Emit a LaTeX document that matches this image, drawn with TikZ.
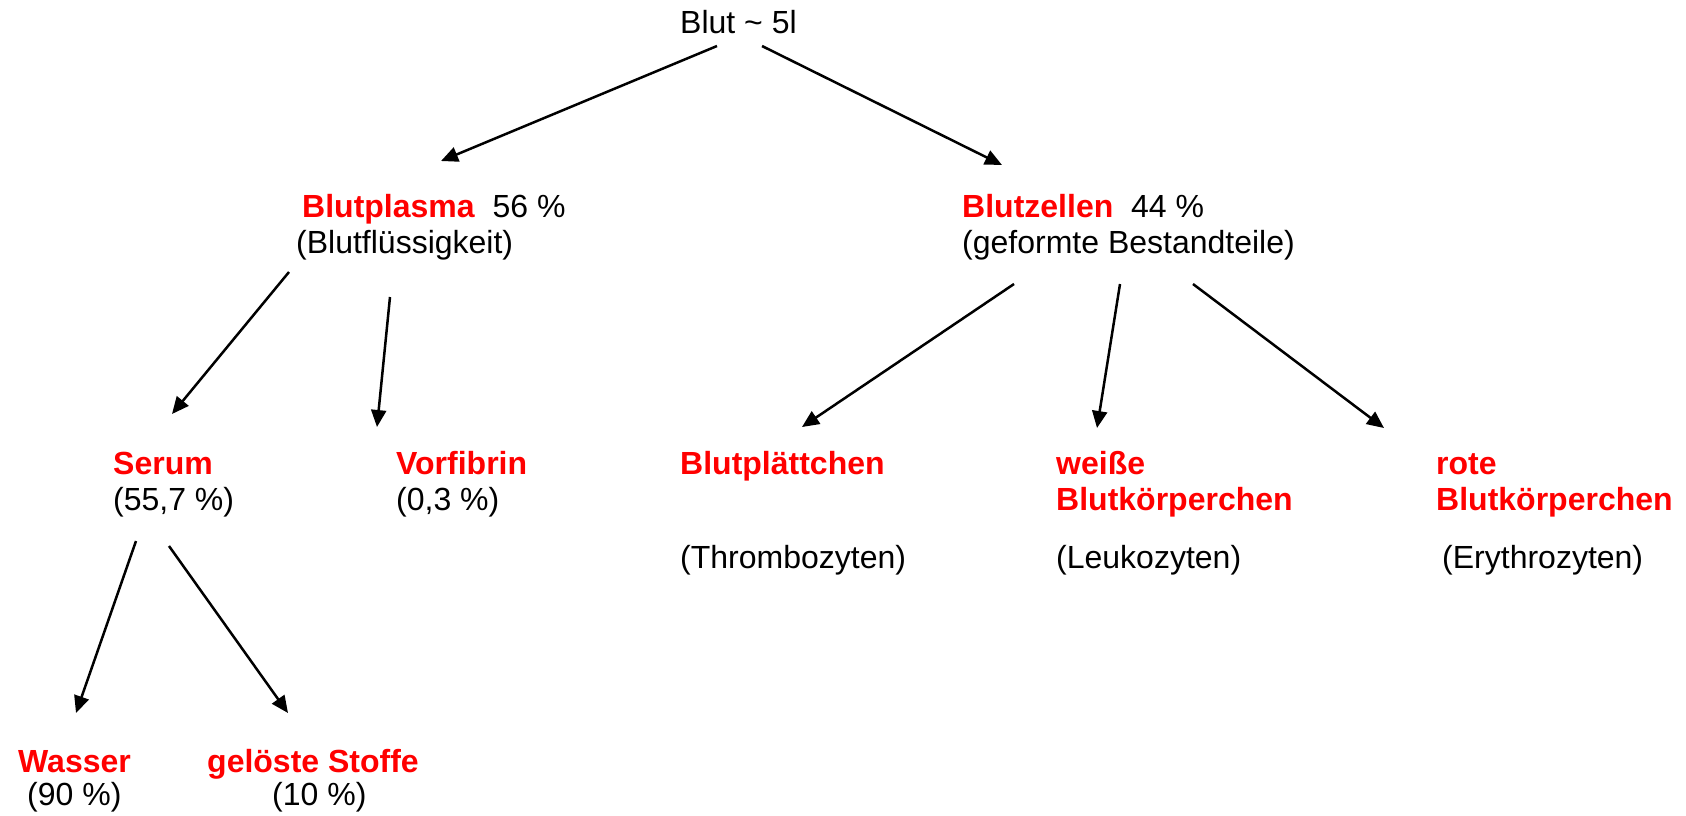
\documentclass[tikz,border=0pt]{standalone}
\usepackage{fontspec}
\setmainfont{Liberation Sans}
\usetikzlibrary{arrows.meta,calc}
\newcommand{\rotfett}[1]{\textcolor{red}{\textbf{#1}}}

\begin{document}
\begin{tikzpicture}[x=1pt,y=-1pt,
	every node/.style={inner sep=0pt,anchor=base west,align=left,font=\fontsize{32}{36}\selectfont},
	pfeil/.style={-{Triangle[length=17pt,width=15pt]},line width=2.5pt}]
\useasboundingbox (0,0) rectangle (1686,815);
% Knoten (base = letzte Zeile)
\node (blut) at (680,33) {Blut \textasciitilde{} 5l};
\node (plasma) at (296,253) {\hspace*{6pt}\rotfett{Blutplasma}\ \ 56 \%\\(Blutflüssigkeit)};
\node (zellen) at (962,253) {\rotfett{Blutzellen}\ \ 44 \%\\(geformte Bestandteile)};
\node (serum) at (113,510) {\rotfett{Serum}\\(55,7 \%)};
\node (vorfibrin) at (396,510) {\rotfett{Vorfibrin}\\(0,3 \%)};
\node (plaett) at (680,568) {\rotfett{Blutplättchen}\\[58pt](Thrombozyten)};
\node (weisse) at (1056,568) {\rotfett{weiße}\\\rotfett{Blutkörperchen}\\[22pt](Leukozyten)};
\node (rote) at (1436,568) {\rotfett{rote}\\\rotfett{Blutkörperchen}\\[22pt]\hspace*{6pt}(Erythrozyten)};
\node (wasser) at (18,805) {\rotfett{Wasser}\\[-3pt]\hspace*{9pt}(90 \%)};
\node (geloest) at (207,805) {\rotfett{gelöste Stoffe}\\[-3pt]\hspace*{65pt}(10 \%)};
% Pfeile
\draw[pfeil] ($(blut.base west)+(37,13)$) -- ($(plasma.base west)+(145,-92)$);
\draw[pfeil] ($(blut.base west)+(82,13)$) -- ($(zellen.base west)+(40,-88)$);
\draw[pfeil] ($(plasma.base west)+(-7,19)$) -- ($(serum.base west)+(59,-96)$);
\draw[pfeil] ($(plasma.base west)+(94,44)$) -- ($(vorfibrin.base west)+(-19,-83)$);
\draw[pfeil] ($(zellen.base west)+(52,31)$) -- ($(plaett.base west)+(122,-141)$);
\draw[pfeil] ($(zellen.base west)+(158,31)$) -- ($(weisse.base west)+(41,-140)$);
\draw[pfeil] ($(zellen.base west)+(231,31)$) -- ($(rote.base west)+(-52,-140)$);
\draw[pfeil] ($(serum.base west)+(23,31)$) -- ($(wasser.base west)+(58,-92)$);
\draw[pfeil] ($(serum.base west)+(56,36)$) -- ($(geloest.base west)+(81,-92)$);
\end{tikzpicture}
\end{document}
